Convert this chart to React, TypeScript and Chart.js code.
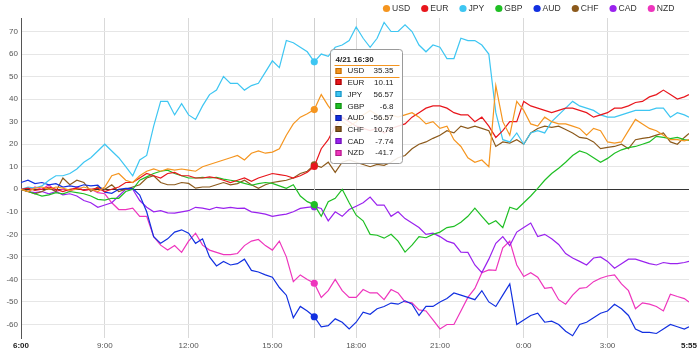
import React, { useEffect, useRef } from "react";
import { Chart, registerables } from "chart.js";

Chart.register(...registerables);

const FONT = '"Liberation Sans", Arial, sans-serif';

const CURRENCIES = ["USD", "EUR", "JPY", "GBP", "AUD", "CHF", "CAD", "NZD"];
const COLORS = ["#f5951f", "#e8161c", "#3ec6f2", "#1fbf24", "#1230e0", "#8c5a1c", "#9a22ee", "#ee35bd"];
const BOX_EDGES = ["#c06a00", "#a00000", "#1890c0", "#108a10", "#0a1a9a", "#5a3a10", "#6a10b0", "#b01a88"];

// sampling grid: minutes after 6:00 (every 15 min, last sample 5:55)
const SAMPLE_MINUTES: number[] = [];
for (let m = 0; m <= 1425; m += 15) SAMPLE_MINUTES.push(m);
SAMPLE_MINUTES.push(1435);

const X_TICKS = [0, 180, 360, 540, 720, 900, 1080, 1260, 1435];
const Y_TICKS = [-60, -50, -40, -30, -20, -10, 0, 10, 20, 30, 40, 50, 60, 70];
const HOVER_INDEX = 42;
const HOVER_TITLE = "4/21 16:30";

const USD = [
  0, -1, 0.5, 1, 0, 1, 0.5, -0.5, 0, 1,
  0, -1, 1, 6, 7, 4, 3, 6, 8, 9,
  8, 9, 8.5, 9, 8.5, 8, 10, 11, 12, 13,
  14, 15, 13, 16, 17, 16, 16.5, 18, 24, 29,
  32, 33.5, 35.35, 42, 37, 33, 30, 28, 30, 33,
  35, 33, 31, 33, 32, 33, 34, 32, 29, 30,
  27, 28, 22, 19, 14, 12, 13, 10, 46, 30,
  24, 39, 35, 29, 28, 32, 30, 29, 29, 28,
  27, 24, 27, 26, 21, 20.5, 21, 26, 31, 29,
  27, 26, 24, 22, 22, 21.5, 22,
];
const EUR = [
  0, 0.5, -0.5, 0, 1, 0, -1, 0, 0.5, -0.5,
  0, 0.5, -1, 0, 1, 3, 3, 5, 7, 6,
  5, 7, 7.5, 6, 6, 5, 5, 5.5, 5, 4,
  3, 4, 5, 3.5, 5, 6, 7, 6.5, 6, 5,
  6, 7.5, 10.11, 18, 22, 28, 32, 30, 28, 27,
  26, 27, 25, 27, 28, 29, 32, 34, 36, 37,
  37, 36, 34, 33, 33, 30, 32, 28, 23, 26,
  30, 30, 39, 37, 36, 35, 34, 35, 36, 36,
  35, 34, 32, 33, 34, 36, 36, 37, 38.5, 39,
  41, 42, 44, 42, 40, 41, 42,
];
const JPY = [
  0, 1, 0.5, 1.5, 4, 6, 6, 7, 9, 12,
  14, 17, 20, 17, 14, 10, 6, 13, 15, 28,
  39, 39, 33, 38, 33, 31, 37, 42, 44, 50,
  47, 47, 44, 46, 47, 52, 57, 54, 66, 65,
  63, 61, 56.57, 60, 59, 63, 64, 66, 72, 67,
  63, 67, 74, 70, 70, 73, 70, 64, 61, 64,
  63, 58, 58, 67, 66, 66, 64, 60, 34, 22,
  21, 25, 20, 25, 26, 25, 30, 33, 36, 39,
  37, 36, 35, 33, 32, 32, 33, 34, 35, 35,
  35, 36, 36, 32, 34, 33, 32,
];
const GBP = [
  0, -1, -2, -3, -2.5, -1.5, -2, -1, -1.5, -2,
  -3, -4.5, -4.8, -4, -4, -1, 0, 4, 5.5, 7,
  8, 8.5, 7, 6, 5, 5, 5.3, 5, 5.3, 4.5,
  4, 3.5, 2.6, 1.8, 2.5, 3, 2.6, 1.5, 0.4, 2,
  -3, -5.5, -6.8, -12, -5.5, -4, 0, -6, -11.5, -14,
  -20, -20.4, -21.7, -20, -23, -27.9, -24.8, -21, -21.5, -20,
  -19, -17, -16.5, -14.6, -12, -8.4, -12, -15.5, -14, -17,
  -8, -9, -6, -3, 0.4, 4, 7, 9.3, 12, 15,
  17, 16, 14, 12, 13.7, 16, 17.5, 18.5, 19, 20,
  21, 23.5, 23, 22.5, 23, 22, 21.7,
];
const AUD = [
  3, 4, 2.5, 3, 2, 2.5, 1, 1.5, 1, 2,
  1.5, 1.8, -1.3, -1.8, 0, 0.4, 0.4, -2.6, -10, -21,
  -24, -22, -19, -18, -19.5, -24, -22, -30, -34, -32,
  -33.6, -33, -31, -36, -36.7, -38, -39, -43.6, -47, -57,
  -52, -54, -56.57, -61, -60.5, -57.5, -59, -62, -59, -54.5,
  -55.5, -53, -52, -50.5, -51, -49.5, -51, -56, -52, -52,
  -50, -48.5, -46, -47, -48, -49, -45, -50, -52, -47,
  -42, -60, -58, -56, -55, -59, -58.5, -60, -63, -65,
  -60, -59, -57, -55, -54, -51, -53, -56, -62, -63.5,
  -63.5, -64, -62, -60, -61, -62, -61,
];
const CHF = [
  0, -1, -2, -1, 0.5, -1, 5, 2, 4, 3,
  -1, 1, 0, 2, -1, 0, 1, 2, 5, 6,
  3, 2, 2, 3, 2.6, 0.5, 1, 1, 2, 3,
  2, 2.5, 4, 2, 0.4, 2, 3, 3.5, 4, 5,
  7, 8, 10.78, 9.7, 12, 7.5, 12, 13, 12, 11,
  10, 11, 10.6, 12, 14, 15, 18, 20, 21, 22.6,
  24, 26, 25, 28, 27, 28, 27, 26, 19, 21,
  20.5, 22, 20, 25, 27, 28, 27.5, 28, 26.5, 25,
  23, 22.6, 21, 18, 18.6, 19, 20, 18, 22, 22.6,
  23, 24, 25, 21, 20, 23, 24.8,
];
const CAD = [
  0, -1, -1.5, -1, -2, -1, -2.5, -2, -3, -5,
  -6, -8, -7, -6, -3, 0, 0, -5, -8, -10,
  -9.5, -10.5, -10.6, -10, -9.5, -8, -8.4, -9, -8, -8.5,
  -8, -8.5, -8.4, -10, -10.5, -11, -12, -11.5, -11, -10,
  -8.5, -8, -7.74, -8.5, -14, -10, -12, -9, -7.5, -6,
  -3.5, -7, -7, -12, -10, -13, -15, -17, -20, -19.5,
  -21, -23, -24, -27.9, -28, -33.6, -37, -31, -24, -21,
  -25, -19, -17, -15, -21, -20, -22, -24.5, -28.5, -30.5,
  -32, -33.6, -30.5, -30, -32, -35, -33, -31, -31, -32,
  -33, -33.6, -32.5, -33, -33, -32.5, -32,
];
const NZD = [
  0, -1, 1, 0, 2, -1, 0, -1, 1, -0.5,
  0, -1.5, -2, -6, -9, -9, -8.4, -12, -12, -21,
  -24.8, -27, -25, -28, -23, -19.5, -24.8, -27, -28, -29,
  -29, -28.5, -25, -23, -22.3, -25, -27, -23, -30, -41,
  -38, -40, -41.7, -48, -45, -40, -45, -48, -48, -44.5,
  -46, -46, -49, -44.5, -46, -50, -50.4, -53.5, -54, -58,
  -62, -60, -60, -54, -48, -44, -37, -35.8, -36, -26,
  -23, -33.6, -38.7, -37, -39, -44, -43.6, -49, -51, -47,
  -44, -43.6, -41, -39.5, -38.5, -38, -42, -45, -53, -50.4,
  -51, -52, -54, -46.6, -47.6, -48.5, -50,
];

const SERIES = [USD, EUR, JPY, GBP, AUD, CHF, CAD, NZD];

function fmtMinute(m: number): string {
  const total = 6 * 60 + m;
  const h = Math.floor(total / 60) % 24;
  const mm = total % 60;
  return `${h}:${String(mm).padStart(2, "0")}`;
}

const crosshairPlugin = {
  id: "crosshair",
  beforeDatasetsDraw(chart: any) {
    const { ctx, chartArea, scales } = chart;
    const px = Math.round(scales.x.getPixelForValue(SAMPLE_MINUTES[HOVER_INDEX])) + 0.5;
    ctx.save();
    ctx.strokeStyle = "#cfcfcf";
    ctx.lineWidth = 1;
    ctx.beginPath();
    ctx.moveTo(px, chartArea.top);
    ctx.lineTo(px, chartArea.bottom);
    ctx.stroke();
    ctx.restore();
  },
};

const tooltipPlugin = {
  id: "staticTooltip",
  afterDatasetsDraw(chart: any) {
    const { ctx, chartArea, scales } = chart;
    const px = scales.x.getPixelForValue(SAMPLE_MINUTES[HOVER_INDEX]);
    const bx = Math.round(px) + 16.5;
    const by = Math.round(chartArea.top) + 31.5;
    const bw = 72;
    const bh = 114;
    ctx.save();
    ctx.beginPath();
    if (ctx.roundRect) ctx.roundRect(bx, by, bw, bh, 3);
    else ctx.rect(bx, by, bw, bh);
    ctx.fillStyle = "rgba(255,255,255,0.88)";
    ctx.fill();
    ctx.strokeStyle = "#9a9a9a";
    ctx.lineWidth = 1;
    ctx.stroke();

    ctx.textBaseline = "middle";
    ctx.fillStyle = "#222";
    ctx.font = `bold 8px ${FONT}`;
    ctx.textAlign = "left";
    ctx.fillText(HOVER_TITLE, bx + 5, by + 10);

    ctx.strokeStyle = COLORS[0];
    ctx.lineWidth = 1;
    ctx.beginPath();
    ctx.moveTo(bx + 4, by + 16);
    ctx.lineTo(bx + bw - 3, by + 16);
    ctx.moveTo(bx + 4, by + 28);
    ctx.lineTo(bx + bw - 3, by + 28);
    ctx.stroke();

    ctx.font = `8px ${FONT}`;
    CURRENCIES.forEach((c, k) => {
      const y = by + 21.7 + k * 11.7;
      ctx.fillStyle = COLORS[k];
      ctx.fillRect(bx + 5, Math.round(y - 3.5), 6, 6);
      ctx.strokeStyle = BOX_EDGES[k];
      ctx.strokeRect(bx + 5.5, Math.round(y - 3.5) + 0.5, 5, 5);
      ctx.fillStyle = "#222";
      ctx.textAlign = "left";
      ctx.fillText(c, bx + 17, y);
      ctx.textAlign = "right";
      ctx.fillText(String(SERIES[k][HOVER_INDEX]), bx + 63, y);
    });
    ctx.restore();
  },
};

const legendPlugin = {
  id: "topLegend",
  afterDraw(chart: any) {
    const { ctx } = chart;
    ctx.save();
    ctx.font = `8.6px ${FONT}`;
    const R = 3.6;
    const TEXT_OFF = 5.5;
    const GAP = 11;
    const widths = CURRENCIES.map((c) => ctx.measureText(c).width);
    let total = 0;
    widths.forEach((w, i) => {
      total += R + TEXT_OFF + w;
      if (i < widths.length - 1) total += GAP;
    });
    let x = 674.5 - total;
    const y = 8.5;
    ctx.textBaseline = "middle";
    ctx.textAlign = "left";
    CURRENCIES.forEach((c, i) => {
      const cx = x + R;
      ctx.fillStyle = COLORS[i];
      ctx.beginPath();
      ctx.arc(cx, y, R, 0, Math.PI * 2);
      ctx.fill();
      ctx.fillStyle = "#333";
      ctx.fillText(c, cx + TEXT_OFF, y + 0.5);
      x = cx + TEXT_OFF + widths[i] + GAP;
    });
    ctx.restore();
  },
};

export default function App() {
  const canvasRef = useRef<HTMLCanvasElement | null>(null);

  useEffect(() => {
    const canvas = canvasRef.current;
    if (!canvas) return;
    const datasets = CURRENCIES.map((name, k) => ({
      label: name,
      data: SERIES[k].map((v, i) => ({ x: SAMPLE_MINUTES[i], y: v })),
      borderColor: COLORS[k],
      backgroundColor: COLORS[k],
      borderWidth: 1.2,
      pointRadius: (c: any) => (c.dataIndex === HOVER_INDEX ? 3.6 : 0),
      pointBorderWidth: 0,
      pointBackgroundColor: COLORS[k],
      pointHoverRadius: 0,
      fill: false,
      tension: 0,
    }));

    const chart = new Chart(canvas, {
      type: "line",
      data: { datasets },
      options: {
        responsive: false,
        animation: false,
        events: [],
        layout: { padding: { top: 18, right: 10, bottom: 0, left: 0 } },
        plugins: {
          legend: { display: false },
          tooltip: { enabled: false },
          title: { display: false },
        },
        scales: {
          x: {
            type: "linear",
            min: 0,
            max: 1435,
            afterBuildTicks: (scale: any) => {
              scale.ticks = X_TICKS.map((v) => ({ value: v }));
            },
            afterFit: (scale: any) => {
              scale.height = 20;
            },
            border: { display: false },
            grid: {
              drawTicks: false,
              color: (c: any) =>
                c.tick && (c.tick.value === 0 || c.tick.value === 1435) ? "rgba(0,0,0,0)" : "#d9d9d9",
              lineWidth: 1,
            },
            ticks: {
              autoSkip: false,
              maxRotation: 0,
              padding: 3,
              color: (c: any) => (c.index === 0 || c.index === X_TICKS.length - 1 ? "#222" : "#555"),
              font: (c: any) => ({
                size: 8,
                family: FONT,
                weight: c.index === 0 || c.index === X_TICKS.length - 1 ? "bold" : "normal",
              }),
              callback: (v: any) => fmtMinute(Number(v)),
            },
          },
          y: {
            type: "linear",
            min: -66,
            max: 76,
            afterBuildTicks: (scale: any) => {
              scale.ticks = Y_TICKS.map((v) => ({ value: v }));
            },
            afterFit: (scale: any) => {
              scale.width = 21;
            },
            border: { display: true, color: "#555", width: 1 },
            grid: {
              drawTicks: false,
              color: (c: any) => (c.tick && c.tick.value === 0 ? "#333" : "#e6e6e6"),
              lineWidth: 1,
            },
            ticks: {
              padding: 3,
              color: "#555",
              font: { size: 8, family: FONT },
              callback: (v: any) => String(v),
            },
          },
        },
      },
      plugins: [crosshairPlugin, tooltipPlugin, legendPlugin],
    } as any);

    return () => chart.destroy();
  }, []);

  return (
    <div style={{ position: "absolute", left: 0, top: 0, width: 700, height: 358, background: "#fff" }}>
      <canvas ref={canvasRef} width={700} height={358} style={{ display: "block" }} />
    </div>
  );
}
